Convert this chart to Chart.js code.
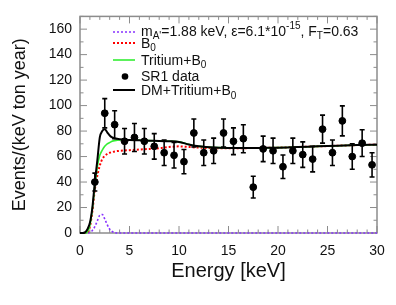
<!DOCTYPE html>
<html lang="en">
<head>
    <meta charset="UTF-8">
    <title>Dark photon fit - SR1</title>
    <script src="https://cdn.jsdelivr.net/npm/chart.js"></script>
    <style>
        html, body { margin: 0; padding: 0; background: #fff; }
        #wrap { width: 396px; height: 305px; }
    </style>
</head>
<body>
    <div id="wrap"><canvas id="fitChart" width="396" height="305"></canvas></div>

    <script>
        // SR1 data (1 keV bins)
        const dataE = [1.5, 2.5, 3.5, 4.5, 5.5, 6.5, 7.5, 8.5, 9.5, 10.5, 11.5, 12.5, 13.5, 14.5, 15.5,
                       16.5, 17.5, 18.5, 19.5, 20.5, 21.5, 22.5, 23.5, 24.5, 25.5, 26.5, 27.5, 28.5, 29.5];
        const dataV = [40, 94, 85, 72, 75, 72, 68, 63, 61, 56, 78.5, 63, 64.5, 78.5, 72,
                       74, 36, 66, 64.5, 52, 64.5, 61.5, 58, 81.5, 63, 88, 60, 70.5, 53.5];
        const dataErr = [7, 11.5, 11, 10, 11, 10, 10, 10, 10, 9.5, 11, 10, 10, 11, 10.5,
                         11, 8.5, 10, 10, 9.2, 10, 10, 10, 11, 10, 11.8, 10, 10.5, 9.5];

        // model curves
        const eGrid = [0, 0.25, 0.5, 0.75, 1, 1.25, 1.5, 1.75, 2, 2.25, 2.5, 2.75, 3, 3.25, 3.5,
                       4, 5, 6, 7, 8, 9, 10, 11, 12, 14, 16, 18, 20, 22, 24, 26, 28, 30];
        const dmCurve = [0, 0, 0, 0, 0.5, 2, 5, 9.5, 14, 14.5, 11, 6.5, 3, 1.2, 0.3,
                         0, 0, 0, 0, 0, 0, 0, 0, 0, 0, 0, 0, 0, 0, 0, 0, 0, 0];
        const b0Curve = [0, 0, 0, 0.5, 5, 17, 34, 45, 53, 58, 60.5, 62, 63, 63.5, 64,
                         64.5, 65, 65.5, 66, 66.5, 67.5, 68, 67.5, 67, 66.5, 66.5, 66.8, 67, 67.5, 68, 68.5, 69, 69.3];
        const tritCurve = [0, 0, 0, 1, 6, 19, 37, 52, 61, 65, 68, 70, 71, 72, 72.5,
                           73, 73, 72.8, 72.5, 72.3, 72, 71.5, 69.5, 68, 67, 66.7, 66.8, 67, 67.5, 68, 68.5, 69, 69.3];
        const totalCurve = [0, 0, 0.5, 3, 8, 20, 40, 57, 75, 80, 81.5, 79, 76.5, 75, 74.3,
                            73.5, 73, 72.8, 72.5, 72.3, 72, 71.5, 69.5, 68, 67, 66.7, 66.8, 67, 67.5, 68, 68.5, 69, 69.3];

        // axes
        const xTicks = [0, 5, 10, 15, 20, 25, 30];
        const yTicks = [0, 20, 40, 60, 80, 100, 120, 140, 160];

        const FONT = "'Liberation Sans', Arial, sans-serif";
        const FRAME = '#8c8c8c';

        function pts(xs, ys) {
            return xs.map((x, i) => ({ x: x, y: ys[i] }));
        }

        function curve(label, ys, color, width, dash, order) {
            return {
                label: label,
                data: pts(eGrid, ys),
                showLine: true,
                borderColor: color,
                borderWidth: width,
                borderDash: dash,
                pointRadius: 0,
                cubicInterpolationMode: 'monotone',
                clip: 4,
                order: order
            };
        }

        // frame with inward ticks on all four sides
        const framePlugin = {
            id: 'frame',
            beforeDatasetsDraw(chart) {
                const { ctx, chartArea: a, scales: { x, y } } = chart;
                ctx.save();
                ctx.strokeStyle = FRAME;
                ctx.lineWidth = 1.5;
                ctx.strokeRect(a.left, a.top, a.right - a.left, a.bottom - a.top);
                ctx.lineWidth = 1;
                ctx.beginPath();
                for (let v = 0; v <= 30; v += 1) {
                    const px = x.getPixelForValue(v);
                    const len = v % 5 === 0 ? 7 : 3.5;
                    ctx.moveTo(px, a.bottom); ctx.lineTo(px, a.bottom - len);
                    ctx.moveTo(px, a.top); ctx.lineTo(px, a.top + len);
                }
                for (let v = 0; v <= 170; v += 10) {
                    const py = y.getPixelForValue(v);
                    const len = v % 20 === 0 ? 7 : 3.5;
                    ctx.moveTo(a.left, py); ctx.lineTo(a.left + len, py);
                    ctx.moveTo(a.right, py); ctx.lineTo(a.right - len, py);
                }
                ctx.stroke();
                ctx.restore();
            }
        };

        // vertical error bars with caps
        const errorBarPlugin = {
            id: 'errorBars',
            afterDatasetsDraw(chart) {
                const { ctx, scales: { x, y } } = chart;
                ctx.save();
                ctx.strokeStyle = '#000';
                ctx.lineWidth = 1.6;
                ctx.beginPath();
                dataE.forEach((e, i) => {
                    const px = x.getPixelForValue(e);
                    const lo = y.getPixelForValue(dataV[i] - dataErr[i]);
                    const hi = y.getPixelForValue(dataV[i] + dataErr[i]);
                    ctx.moveTo(px, lo); ctx.lineTo(px, hi);
                    ctx.moveTo(px - 2.5, lo); ctx.lineTo(px + 2.5, lo);
                    ctx.moveTo(px - 2.5, hi); ctx.lineTo(px + 2.5, hi);
                });
                ctx.stroke();
                ctx.restore();
            }
        };

        // draws a run of text pieces: [text, shift] where shift is 0, 'sub' or 'sup'
        function richText(ctx, x, y, parts) {
            let cx = x;
            parts.forEach(p => {
                const kind = p[1];
                if (kind === 'sub') {
                    ctx.font = '10px ' + FONT;
                    ctx.fillText(p[0], cx, y + 3.5);
                } else if (kind === 'sup') {
                    ctx.font = '10px ' + FONT;
                    ctx.fillText(p[0], cx, y - 7);
                } else {
                    ctx.font = '14px ' + FONT;
                    ctx.fillText(p[0], cx, y);
                }
                cx += ctx.measureText(p[0]).width;
            });
        }

        const legendRows = [
            { y: 32, base: 35.5, type: 'line', color: '#8833ff', width: 1.6, dash: [2, 2],
              parts: [['m'], ["A'", 'sub'], ['=1.88 keV, \u03b5=6.1*10'], ['-15', 'sup'], [', F'], ['T', 'sub'], ['=0.63']] },
            { y: 43, base: 47.5, type: 'line', color: '#ff0000', width: 2, dash: [2, 2],
              parts: [['B'], ['0', 'sub']] },
            { y: 60, base: 64.5, type: 'line', color: '#33ee33', width: 1.6, dash: [],
              parts: [['Tritium+B'], ['0', 'sub']] },
            { y: 76.5, base: 81, type: 'dot', color: '#000',
              parts: [['SR1 data']] },
            { y: 90, base: 95, type: 'line', color: '#000', width: 2, dash: [],
              parts: [['DM+Tritium+B'], ['0', 'sub']] }
        ];

        const legendPlugin = {
            id: 'richLegend',
            afterDraw(chart) {
                const ctx = chart.ctx;
                ctx.save();
                legendRows.forEach(r => {
                    if (r.type === 'line') {
                        ctx.strokeStyle = r.color;
                        ctx.lineWidth = r.width;
                        ctx.setLineDash(r.dash);
                        ctx.beginPath();
                        ctx.moveTo(113, r.y); ctx.lineTo(135, r.y);
                        ctx.stroke();
                        ctx.setLineDash([]);
                    } else {
                        ctx.fillStyle = r.color;
                        ctx.beginPath();
                        ctx.arc(125, r.y, 3.3, 0, Math.PI * 2);
                        ctx.fill();
                    }
                    ctx.fillStyle = '#111';
                    ctx.textBaseline = 'alphabetic';
                    ctx.textAlign = 'left';
                    richText(ctx, 141, r.base, r.parts);
                });
                ctx.restore();
            }
        };

        new Chart(document.getElementById('fitChart'), {
            type: 'scatter',
            data: {
                datasets: [
                    {
                        label: 'SR1 data',
                        data: pts(dataE, dataV),
                        backgroundColor: '#000',
                        borderColor: '#000',
                        pointRadius: 3.4,
                        order: 0
                    },
                    curve('DM+Tritium+B0', totalCurve, '#000', 2, [], 1),
                    curve('Tritium+B0', tritCurve, '#33ee33', 1.6, [], 2),
                    curve('B0', b0Curve, '#ff0000', 2, [2, 2], 3),
                    curve("m_A'=1.88 keV", dmCurve, '#8833ff', 1.6, [2, 2], 4)
                ]
            },
            options: {
                responsive: false,
                animation: false,
                layout: { padding: { top: 16, right: 19, left: 0, bottom: 0 } },
                plugins: { legend: { display: false }, tooltip: { enabled: false } },
                scales: {
                    x: {
                        type: 'linear',
                        min: 0,
                        max: 30,
                        afterBuildTicks: s => { s.ticks = xTicks.map(v => ({ value: v })); },
                        afterFit: s => { s.height = 72; },
                        grid: { display: false, drawTicks: false },
                        border: { display: false },
                        ticks: { padding: 10, color: '#111', maxRotation: 0, font: { family: FONT, size: 14 } },
                        title: {
                            display: true,
                            text: 'Energy [keV]',
                            color: '#111',
                            font: { family: FONT, size: 20 },
                            padding: { top: 0, bottom: 22 }
                        }
                    },
                    y: {
                        min: 0,
                        max: 170,
                        afterBuildTicks: s => { s.ticks = yTicks.map(v => ({ value: v })); },
                        afterFit: s => { s.width = 80; },
                        grid: { display: false, drawTicks: false },
                        border: { display: false },
                        ticks: { padding: 8, color: '#111', font: { family: FONT, size: 14 } },
                        title: {
                            display: true,
                            text: 'Events/(keV ton year)',
                            color: '#111',
                            font: { family: FONT, size: 18 },
                            padding: { top: 9, bottom: 0 }
                        }
                    }
                }
            },
            plugins: [framePlugin, errorBarPlugin, legendPlugin]
        });
    </script>
</body>
</html>
